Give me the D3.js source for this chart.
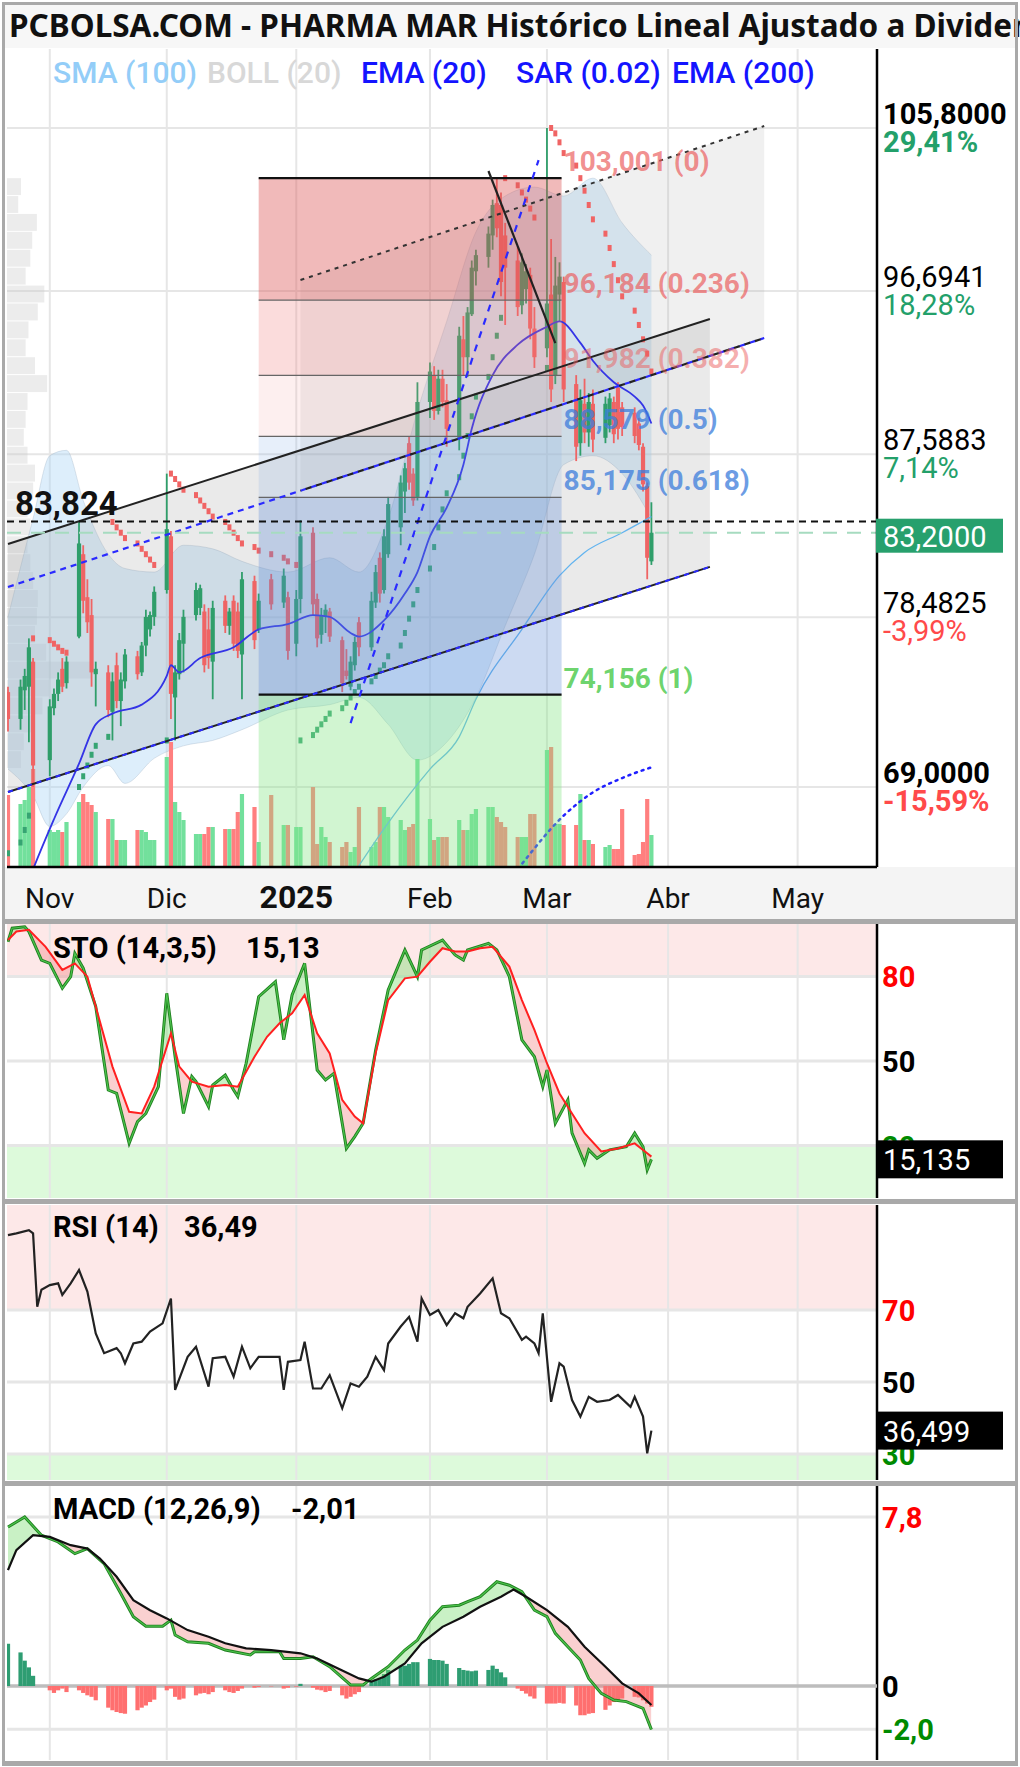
<!DOCTYPE html>
<html>
<head>
<meta charset="utf-8">
<script src="https://cdn.jsdelivr.net/npm/d3@7"></script>
<style>
body { margin: 0; background: #fff; }
svg text { font-family: Roboto, sans-serif; }
</style>
</head>
<body>
<svg id="chart" width="1020" height="1767"></svg>
<script>
// ---------------- data ----------------
var holidays = ["2024-11-01", "2024-12-25", "2024-12-26", "2025-01-01"];

var opens  = [74.3,72.8,74.4,74.6,76.0,70.5,73.4,74.2,75.6,74.8, 77.4,82.0,79.6,78.6,75.3,75.4,73.2,75.8,73.8,74.9, 76.3,75.4,76.9,77.8,78.5,80.0,83.0,74.0,75.3,77.0, 78.6,79.0,78.8,77.8,76.0,79.4,78.0,79.4,78.8,76.4, 80.5,77.8,80.6,79.3,79.6,77.0,79.5,83.2,79.5,77.5, 78.5,78.8,77.2,75.5,74.6,75.8,78.2,76.8,79.3,81.8, 80.0,82.0,83.5,85.5,88.2,86.5,85.2,90.5,92.0,90.0, 91.8,90.6,88.5,94.0,93.0,95.4,97.8,98.6,99.8,101.6, 101.5,99.8,98.4,95.9,96.8,97.6,94.6,93.5,96.5,92.0, 96.5,97.2,91.5,88.2,90.4,88.8,90.4,88.5,89.2,90.5, 91.3,90.2,89.9,89.3,88.0,85.8,81.6];
var highs  = [74.6,75.0,75.6,77.3,76.2,73.9,74.5,75.4,76.2,76.3, 83.8,82.5,80.6,79.5,76.0,75.8,75.4,76.5,75.4,76.7, 76.6,77.1,78.9,78.8,80.2,86.5,83.3,75.8,77.6,78.9, 80.4,80.3,79.2,79.0,79.4,79.7,79.0,79.7,79.3,81.0, 80.8,79.8,80.9,81.2,79.9,80.0,83.9,83.5,79.8,79.0, 79.2,79.0,77.4,76.7,76.3,77.4,78.5,79.9,81.4,82.1, 83.4,85.2,86.4,87.1,88.6,86.8,91.6,92.7,92.5,92.3, 92.3,91.5,94.7,95.3,95.8,98.4,99.0,100.3,101.8,103.0, 102.2,100.5,99.2,98.8,98.2,98.0,95.8,105.8,99.6,98.6, 98.3,97.5,92.0,91.2,91.8,91.0,91.2,90.8,91.0,90.8, 91.6,90.5,90.2,89.6,88.2,86.0,84.9];
var lows   = [72.1,72.2,73.3,71.5,69.0,69.6,73.0,73.8,74.3,74.5, 77.3,78.7,77.6,74.6,73.5,72.9,71.6,73.4,72.4,74.5, 75.0,75.2,76.3,77.4,78.0,79.8,72.8,71.6,75.0,75.4, 78.3,78.6,75.4,75.6,73.9,77.6,77.5,76.6,76.2,73.9, 76.7,77.6,78.9,79.0,76.1,76.3,78.7,78.6,76.8,77.0, 77.6,77.1,74.3,75.0,74.4,75.5,76.3,76.6,79.0,79.3, 79.8,81.8,82.5,84.3,85.6,84.7,85.0,89.6,89.5,89.8, 90.2,88.0,87.8,92.0,91.9,95.3,97.0,98.0,99.0,99.7, 96.4,94.8,95.3,95.4,96.0,94.0,92.4,93.0,90.5,91.5, 95.0,90.5,87.2,87.5,88.2,88.0,87.7,88.2,88.8,88.2, 88.4,88.6,88.2,87.8,85.5,80.6,81.4];
var closes = [72.8,74.6,75.2,76.8,70.2,73.5,74.2,75.0,74.6,76.0, 82.6,79.4,78.2,75.4,75.6,73.3,74.9,73.8,75.0,76.4, 75.3,76.9,78.5,78.6,79.9,83.4,74.2,75.4,77.2,78.5, 80.0,80.1,75.8,76.2,79.0,78.0,78.8,77.0,76.6,80.6, 77.2,79.4,79.2,80.8,76.6,79.5,83.0,79.2,77.3,78.6, 78.9,77.4,74.8,75.2,76.0,77.1,76.8,79.4,81.0,79.8, 83.0,84.8,86.0,86.8,86.0,85.0,90.5,92.2,90.0,91.8, 90.5,89.0,94.2,93.0,95.5,98.0,98.7,99.9,101.5,100.2, 97.2,98.0,95.8,98.3,97.8,94.6,93.0,96.0,91.2,97.0, 97.5,91.2,88.0,90.6,88.8,90.5,88.4,90.4,90.7,88.7, 89.0,89.1,88.6,88.1,85.9,81.8,83.2];
var volumes = [360,315,335,400,490,185,175,185,175,225, 325,365,325,310,275,240,240,135,135,135, 185,185,175,135,135,550,625,325,275,235, 165,165,165,200,200,190,190,190,275,365, 300,125,360,210,210,200,200,400,115,200, 150,125,100,125,75,100,300,100,125,300, 300,250,235,185,200,215,540,240,135,150, 150,150,235,185,185,265,290,300,300,250, 225,200,150,150,150,265,265,585,600,215, 215,210,210,365,135,135,115,100,110,90, 90,290,60,65,125,340,160];
var sarValues = [65.3,65.9,66.6,67.4,77.3,77.2,77.0,76.8,76.6,76.5, 69.0,69.6,70.2,70.8,71.3,71.8,83.8,83.5,83.2,82.9, 82.6,82.3,82.0,81.7,81.4,71.6,86.5,86.2,85.9,85.6, 85.3,85.0,84.7,84.4,84.1,83.8,83.5,83.2,82.9,82.6, 82.4,82.2,82.0,81.8,81.6,81.4,71.6,71.9,72.2,72.5, 72.8,73.1,73.4,73.7,74.0,74.3,74.6,74.9,75.2,75.5, 75.8,76.3,76.9,77.6,78.4,79.2,80.0,81.2,82.4,83.5, 84.5,85.4,86.3,87.5,88.6,89.7,90.8,91.9,93.0,94.2, 95.2,103.0,102.6,102.2,101.8,101.3,100.8,92.4,105.8,105.5, 105.0,104.4,103.7,103.0,102.3,101.5,100.7,99.9,99.1,98.2, 97.3,96.4,95.6,94.8,94.0,93.2,92.2];
var macdHist = [1.95,1.55,1.17,0.86,0.47, -0.20,-0.32,-0.20,-0.12,-0.28, -0.20,-0.32,-0.43,-0.50,-0.66, -1.00,-1.12,-1.20,-1.25,-1.28, -1.12,-1.00,-0.90,-0.74,-0.63, -0.20,-0.12,-0.50,-0.63,-0.58, -0.43,-0.35,-0.32,-0.38,-0.28, -0.20,-0.28,-0.32,-0.23,-0.12, -0.08,-0.05,-0.02,-0.12,-0.08, -0.03,0.10,-0.08,-0.17,-0.20, -0.28,-0.23,-0.43,-0.58,-0.50, -0.38,-0.28,0.25,0.32,0.32, 0.55,0.74,0.94,0.94,1.02, 1.10,1.10,1.25,1.20,1.20, 1.17,1.02,0.83,0.74,0.71, 0.68,0.71,0.74,0.94,0.79, 0.63,0.40,-0.12,-0.23,-0.35, -0.48,-0.58,-0.81,-0.81,-0.81, -0.78,-0.81,-0.90,-1.35,-1.35, -1.28,-1.25,-1.10,-0.90,-0.74, -0.66,-0.58,-0.50,-0.53,-0.66, -0.81,-0.96];

var ema20 = [["2024-10-25",60.5],["2024-10-30",63.8],["2024-11-05",67.2],["2024-11-11",70.3],["2024-11-15",72.5],["2024-11-19",73.1],["2024-11-26",73.6],["2024-12-02",75.2],["2024-12-03",75.8],["2024-12-05",75.4],["2024-12-10",76.2],["2024-12-18",76.8],["2024-12-24",77.8],["2024-12-31",78.1],["2025-01-06",78.6],["2025-01-10",78.5],["2025-01-15",77.6],["2025-01-17",77.4],["2025-01-23",78.3],["2025-01-28",79.8],["2025-01-31",81.0],["2025-02-03",83.0],["2025-02-07",84.6],["2025-02-11",87.0],["2025-02-13",89.0],["2025-02-18",92.0],["2025-02-24",93.7],["2025-03-03",94.7],["2025-03-06",95.0],["2025-03-11",93.8],["2025-03-14",92.8],["2025-03-19",91.6],["2025-03-24",90.8],["2025-03-26",90.3],["2025-03-28",89.3]];
var sma100 = [["2025-01-15",63.9],["2025-01-24",67.0],["2025-02-03",70.0],["2025-02-10",71.8],["2025-02-14",73.9],["2025-02-25",77.8],["2025-03-06",80.8],["2025-03-12",82.1],["2025-03-21",83.2],["2025-03-28",84.1]];
var ema200 = [["2025-02-21",63.5],["2025-02-25",64.7],["2025-03-07",67.4],["2025-03-14",68.7],["2025-03-21",69.5],["2025-03-28",70.1]];
var bollDates = ["2024-10-25","2024-10-31","2024-11-04","2024-11-08","2024-11-12","2024-11-18","2024-11-22","2024-11-29","2024-12-06","2024-12-13","2024-12-20","2024-12-31","2025-01-10","2025-01-17","2025-01-24","2025-01-31","2025-02-07","2025-02-14","2025-02-21","2025-02-28","2025-03-07","2025-03-14","2025-03-21","2025-03-28"];
var bollUpper = [78.5,84.0,87.5,87.8,85.0,82.0,81.2,81.0,82.5,82.3,81.6,81.0,81.8,81.0,84.0,90.0,95.0,100.0,102.0,102.5,102.0,103.0,100.5,98.7];
var bollLower = [70.0,68.5,66.8,67.5,69.0,70.2,69.2,70.6,71.3,71.6,72.2,73.3,73.6,74.0,72.5,70.5,71.5,74.0,78.0,82.0,87.0,87.5,86.5,84.0];

var profilePrices = [70,71,72,73,74,75,76,77,78,79,80,81,82,83,84,85,86,87,88,89,90,91,92,93,94,95,96,97,98,99,100,101,102];
var profileVolumes = [15,18,30,38,45,90,42,30,32,33,28,25,22,25,22,28,30,22,18,20,22,43,30,20,23,33,40,20,25,27,32,12,15];

var fibStart = "2024-12-24", fibEnd = "2025-03-06T12:00Z";
var fibPrices = [103.001, 96.184, 91.982, 88.579, 85.175, 74.156];
var fibTexts = ["103,001 (0)", "96,184 (0.236)", "91,982 (0.382)", "88,579 (0.5)", "85,175 (0.618)", "74,156 (1)"];

var channelAUpper = [["2024-10-25",82.57],["2025-04-11",95.13]];
var channelALower = [["2024-10-25",68.72],["2025-04-11",81.29]];
var channelBUpper = [["2025-01-03",97.31],["2025-04-24",105.91]];
var channelBLower = [["2024-10-25",80.17],["2025-04-24",94.07]];
var downTrend = [["2025-02-17",103.40],["2025-03-05",93.79]];
var steepTrend = [["2025-01-15",72.57],["2025-03-01",104.01]];
var refLine = 83.824, lastPrice = 83.2;

var priceLevels = [105.8, 96.6941, 87.5883, 78.4825, 69.0];
var priceTexts = ["105,8000", "96,6941", "87,5883", "78,4825", "69,0000"];
var pctTexts = ["29,41%", "18,28%", "7,14%", "-3,99%", "-15,59%"];

var tickDates = ["2024-11-04","2024-12-02","2025-01-02","2025-02-03","2025-03-03","2025-04-01","2025-05-02"];
var tickLabels = ["Nov","Dic","2025","Feb","Mar","Abr","May"];

var stoK = [["2024-10-25",92.3],["2024-10-26",97.1],["2024-10-29",97.6],["2024-10-30",95.9],["2024-11-02",85.8],["2024-11-04",84.6],["2024-11-07",75.8],["2024-11-09",79.9],["2024-11-10",88.2],["2024-11-12",82.9],["2024-11-15",69.3],["2024-11-18",39.7],["2024-11-20",38.5],["2024-11-23",20.8],["2024-11-25",28.5],["2024-11-27",31.4],["2024-11-30",40.9],["2024-12-02",74.0],["2024-12-04",51.5],["2024-12-06",31.4],["2024-12-08",44.5],["2024-12-09",42.7],["2024-12-12",33.8],["2024-12-13",41.5],["2024-12-16",45.0],["2024-12-18",39.7],["2024-12-19",37.4],["2024-12-21",49.2],["2024-12-24",72.8],["2024-12-28",78.1],["2024-12-30",57.5],["2025-01-01",73.4],["2025-01-04",84.6],["2025-01-07",46.8],["2025-01-09",43.3],["2025-01-11",45.6],["2025-01-13",27.9],["2025-01-14",19.0],["2025-01-16",23.2],["2025-01-18",27.9],["2025-01-21",53.9],["2025-01-24",75.2],["2025-01-28",89.4],["2025-01-31",79.9],["2025-02-01",89.4],["2025-02-06",92.9],["2025-02-09",87.6],["2025-02-11",85.8],["2025-02-12",89.4],["2025-02-17",91.7],["2025-02-19",89.4],["2025-02-22",79.9],["2025-02-25",57.5],["2025-02-28",51.5],["2025-03-02",40.9],["2025-03-03",46.8],["2025-03-05",27.9],["2025-03-08",36.2],["2025-03-09",24.4],["2025-03-12",13.7],["2025-03-13",18.5],["2025-03-15",15.5],["2025-03-18",18.5],["2025-03-22",19.6],["2025-03-24",24.4],["2025-03-26",19.6],["2025-03-27",11.4],["2025-03-28",15.1]];
var stoD = [["2024-10-25",92.9],["2024-10-27",95.9],["2024-10-30",96.5],["2024-11-03",90.5],["2024-11-07",82.3],["2024-11-10",84.6],["2024-11-13",79.9],["2024-11-15",69.3],["2024-11-19",48.0],["2024-11-23",32.0],["2024-11-26",31.4],["2024-11-29",40.9],["2024-12-03",59.8],["2024-12-05",48.0],["2024-12-08",42.7],["2024-12-12",40.9],["2024-12-16",41.5],["2024-12-19",40.9],["2024-12-23",51.5],["2024-12-26",58.6],["2024-12-29",63.4],["2025-01-01",66.9],["2025-01-04",73.4],["2025-01-07",59.8],["2025-01-10",52.7],["2025-01-13",36.2],["2025-01-16",30.3],["2025-01-18",27.9],["2025-01-21",52.7],["2025-01-24",71.6],["2025-01-28",79.3],["2025-01-31",79.9],["2025-02-03",85.2],["2025-02-06",90.0],["2025-02-09",88.8],["2025-02-12",88.8],["2025-02-15",90.0],["2025-02-18",90.5],["2025-02-22",83.5],["2025-02-25",71.6],["2025-02-28",61.0],["2025-03-03",49.2],["2025-03-06",38.5],["2025-03-09",31.4],["2025-03-12",24.4],["2025-03-16",17.9],["2025-03-20",19.0],["2025-03-24",20.8],["2025-03-27",17.3],["2025-03-28",16.1]];
var rsi = [["2024-10-25",90.8],["2024-10-27",91.3],["2024-10-30",92.2],["2024-10-31",91.3],["2024-11-01",70.9],["2024-11-02",75.6],["2024-11-04",76.9],["2024-11-06",77.4],["2024-11-07",74.2],["2024-11-09",77.4],["2024-11-11",81.1],["2024-11-13",75.1],["2024-11-15",63.5],["2024-11-17",58.0],["2024-11-20",59.4],["2024-11-21",58.0],["2024-11-22",55.2],["2024-11-24",60.7],["2024-11-26",61.2],["2024-11-28",64.0],["2024-12-01",66.3],["2024-12-03",73.2],["2024-12-04",47.8],["2024-12-07",57.0],["2024-12-09",59.8],["2024-12-12",48.7],["2024-12-13",56.6],["2024-12-16",57.0],["2024-12-18",51.5],["2024-12-20",59.8],["2024-12-22",53.8],["2024-12-24",57.0],["2024-12-29",57.0],["2024-12-30",47.8],["2024-12-31",55.6],["2025-01-03",56.1],["2025-01-04",61.2],["2025-01-06",48.2],["2025-01-08",48.2],["2025-01-10",51.9],["2025-01-13",42.7],["2025-01-15",49.6],["2025-01-17",48.7],["2025-01-19",51.5],["2025-01-21",57.0],["2025-01-23",53.3],["2025-01-24",60.7],["2025-01-27",65.4],["2025-01-29",68.1],["2025-01-31",61.2],["2025-02-01",73.2],["2025-02-03",68.6],["2025-02-05",70.0],["2025-02-07",65.8],["2025-02-09",69.1],["2025-02-11",67.7],["2025-02-12",70.9],["2025-02-15",74.6],["2025-02-18",78.8],["2025-02-20",69.1],["2025-02-22",67.7],["2025-02-25",61.7],["2025-02-26",62.6],["2025-02-28",60.7],["2025-03-01",58.0],["2025-03-02",69.1],["2025-03-04",44.5],["2025-03-06",55.2],["2025-03-07",54.3],["2025-03-09",45.0],["2025-03-11",40.4],["2025-03-13",45.9],["2025-03-15",44.5],["2025-03-18",45.0],["2025-03-20",46.4],["2025-03-23",43.1],["2025-03-24",45.9],["2025-03-26",40.4],["2025-03-27",30.2],["2025-03-28",36.5]];
var macdLine = [["2024-10-25",7.34],["2024-10-29",7.80],["2024-11-02",6.96],["2024-11-06",6.65],["2024-11-10",6.11],["2024-11-13",6.34],["2024-11-17",5.65],["2024-11-21",4.27],["2024-11-24",3.20],["2024-11-27",2.76],["2024-12-01",2.76],["2024-12-03",3.04],["2024-12-04",2.35],["2024-12-07",2.04],["2024-12-12",1.97],["2024-12-16",1.66],["2024-12-22",1.43],["2024-12-23",1.58],["2024-12-29",1.58],["2024-12-30",1.27],["2025-01-03",1.27],["2025-01-06",1.35],["2025-01-10",0.89],["2025-01-15",0.05],["2025-01-18",0.05],["2025-01-20",0.35],["2025-01-24",0.89],["2025-01-28",1.66],["2025-01-31",2.12],["2025-02-03",3.04],["2025-02-06",3.66],["2025-02-10",3.73],["2025-02-12",3.89],["2025-02-15",4.12],["2025-02-19",4.81],["2025-02-22",4.65],["2025-02-25",4.35],["2025-02-28",3.50],["2025-03-03",3.20],["2025-03-05",2.43],["2025-03-08",1.81],["2025-03-11",1.20],["2025-03-13",0.35],["2025-03-16",-0.34],["2025-03-19",-0.65],["2025-03-22",-0.72],["2025-03-26",-1.03],["2025-03-28",-2.01]];
var macdSignal = [["2024-10-25",5.35],["2024-10-27",6.27],["2024-10-31",6.96],["2024-11-04",6.88],["2024-11-09",6.50],["2024-11-13",6.34],["2024-11-16",5.88],["2024-11-20",5.04],["2024-11-24",3.96],["2024-11-28",3.50],["2024-12-02",3.12],["2024-12-07",2.58],["2024-12-12",2.27],["2024-12-16",1.97],["2024-12-21",1.74],["2024-12-27",1.66],["2025-01-03",1.51],["2025-01-07",1.27],["2025-01-12",0.81],["2025-01-17",0.35],["2025-01-20",0.20],["2025-01-23",0.43],["2025-01-28",1.04],["2025-02-01",1.97],["2025-02-06",2.73],["2025-02-11",3.20],["2025-02-15",3.66],["2025-02-20",4.12],["2025-02-23",4.45],["2025-02-26",4.12],["2025-03-03",3.50],["2025-03-08",2.73],["2025-03-12",1.81],["2025-03-17",0.89],["2025-03-21",0.12],["2025-03-25",-0.34],["2025-03-28",-0.88]];

// ---------------- setup ----------------
var P = d3.isoParse, ymd = d3.utcFormat("%Y-%m-%d");
var days = d3.utcDay.range(P("2024-10-25"), P("2025-03-29"))
  .filter(function(d) { return d.getUTCDay() != 0 && d.getUTCDay() != 6 && holidays.indexOf(ymd(d)) < 0; });
var bars = days.map(function(d, i) {
  return {d: d, o: opens[i], h: highs[i], l: lows[i], c: closes[i], v: volumes[i], sar: sarValues[i], hist: macdHist[i]};
});

var svg = d3.select("#chart");
var defs = svg.append("defs");
var plotL = 7, plotR = 877;
var panels = {
  main: {top: 49, bottom: 867},
  sto:  {top: 923, bottom: 1198},
  rsi:  {top: 1205, bottom: 1480},
  macd: {top: 1486, bottom: 1760}
};
Object.keys(panels).forEach(function(k) {
  var p = panels[k];
  defs.append("clipPath").attr("id", "clip-" + k).append("rect")
    .attr("x", plotL).attr("y", p.top).attr("width", plotR - plotL).attr("height", p.bottom - p.top);
});

var x = d3.scaleUtc().domain([P("2024-10-25"), P("2025-05-21")]).range([8, 877]);
var y = d3.scaleLinear().domain([69, 105.8]).range([787, 128]);
var yVol = d3.scaleLinear().domain([0, 650]).range([867, 737]);
var ySto = d3.scaleLinear().domain([0, 100]).range([1202, 920]);
var yRsi = d3.scaleLinear().domain([50, 70]).range([1382, 1310]);
var yMacd = d3.scaleLinear().domain([0, 7.8]).range([1686, 1517]);
var xProfile = d3.scaleLinear().domain([0, 90]).range([0, 84]);

var GREEN = "#2f9e6a", RED = "#ef6464";

function lineOf(ys) {
  return d3.line().x(function(p) { return x(P(p[0])); }).y(function(p) { return ys(p[1]); });
}

// ---------------- frame ----------------
svg.append("rect").attr("x", 0).attr("y", 0).attr("width", 1020).attr("height", 1767).attr("fill", "#fff");
svg.append("rect").attr("x", 4).attr("y", 5).attr("width", 1012).attr("height", 43).attr("fill", "#f7f7f7");
svg.append("rect").attr("x", 4).attr("y", 867).attr("width", 1012).attr("height", 52).attr("fill", "#f4f4f4");

// zones in oscillator panels
svg.append("rect").attr("x", plotL).attr("y", panels.sto.top).attr("width", plotR - plotL)
  .attr("height", ySto(80) - panels.sto.top).attr("fill", "#fde8e8");
svg.append("rect").attr("x", plotL).attr("y", ySto(20)).attr("width", plotR - plotL)
  .attr("height", panels.sto.bottom - ySto(20)).attr("fill", "#ddfadb");
svg.append("rect").attr("x", plotL).attr("y", panels.rsi.top).attr("width", plotR - plotL)
  .attr("height", yRsi(70) - panels.rsi.top).attr("fill", "#fde8e8");
svg.append("rect").attr("x", plotL).attr("y", yRsi(30)).attr("width", plotR - plotL)
  .attr("height", panels.rsi.bottom - yRsi(30)).attr("fill", "#ddfadb");

// grid
var grid = svg.append("g").attr("stroke", "#e6e6e6").attr("stroke-width", 2);
Object.keys(panels).forEach(function(k) {
  var p = panels[k];
  tickDates.forEach(function(t) {
    grid.append("line").attr("x1", x(P(t))).attr("x2", x(P(t))).attr("y1", p.top).attr("y2", p.bottom);
  });
});
priceLevels.forEach(function(v) {
  grid.append("line").attr("x1", plotL).attr("x2", plotR).attr("y1", y(v)).attr("y2", y(v));
});
[80, 50, 20].forEach(function(v) {
  grid.append("line").attr("x1", plotL).attr("x2", plotR).attr("y1", ySto(v)).attr("y2", ySto(v)).attr("stroke-width", 3);
});
[70, 50, 30].forEach(function(v) {
  grid.append("line").attr("x1", plotL).attr("x2", plotR).attr("y1", yRsi(v)).attr("y2", yRsi(v)).attr("stroke-width", 3);
});
[7.8, -2.0].forEach(function(v) {
  grid.append("line").attr("x1", plotL).attr("x2", plotR).attr("y1", yMacd(v)).attr("y2", yMacd(v)).attr("stroke-width", 3);
});

// ---------------- main price panel ----------------
var main = svg.append("g").attr("clip-path", "url(#clip-main)");

// volume profile
main.append("g").selectAll("rect").data(profilePrices).enter().append("rect")
  .attr("x", plotL)
  .attr("y", function(p) { return y(p + 1); })
  .attr("width", function(p, i) { return xProfile(profileVolumes[i]); })
  .attr("height", function(p) { return y(p) - y(p + 1) - 1; })
  .attr("fill", "rgba(200,200,200,0.35)");

// bollinger band
var boll = bollDates.map(function(d, i) { return [d, bollUpper[i], bollLower[i]]; });
main.append("path")
  .attr("d", d3.area().curve(d3.curveMonotoneX)
    .x(function(p) { return x(P(p[0])); }).y0(function(p) { return y(p[2]); }).y1(function(p) { return y(p[1]); })(boll))
  .attr("fill", "rgba(175,215,245,0.42)");
[1, 2].forEach(function(k) {
  main.append("path")
    .attr("d", d3.line().curve(d3.curveMonotoneX).x(function(p) { return x(P(p[0])); }).y(function(p) { return y(p[k]); })(boll))
    .attr("fill", "none").attr("stroke", "rgba(150,170,190,0.3)").attr("stroke-width", 1);
});

// volume bars
main.append("g").selectAll("rect").data(bars).enter().append("rect")
  .attr("x", function(b) { return x(b.d) - 2.1; })
  .attr("y", function(b) { return yVol(b.v); })
  .attr("width", 4.2)
  .attr("height", function(b) { return yVol(0) - yVol(b.v); })
  .attr("fill", function(b) { return b.c >= b.o ? "#72e09c" : "#ff7f7f"; });

// regression channel fills
function valueAt(line, date) {
  return d3.scaleUtc().domain([P(line[0][0]), P(line[1][0])]).range([line[0][1], line[1][1]])(date);
}
var chanA = [channelAUpper[0][0], channelAUpper[1][0]].map(function(d) {
  return [d, valueAt(channelAUpper, P(d)), valueAt(channelALower, P(d))];
});
var chanB = [channelBUpper[0][0], channelBUpper[1][0]].map(function(d) {
  return [d, valueAt(channelBUpper, P(d)), valueAt(channelBLower, P(d))];
});
var bandArea = d3.area().x(function(p) { return x(P(p[0])); })
  .y0(function(p) { return y(p[2]); }).y1(function(p) { return y(p[1]); });
main.append("path").attr("d", bandArea(chanA)).attr("fill", "rgba(150,150,150,0.2)");
main.append("path").attr("d", bandArea(chanB)).attr("fill", "rgba(170,170,170,0.18)");

// candles
var candles = main.append("g").selectAll("g").data(bars).enter().append("g")
  .attr("fill", function(b) { return b.c >= b.o ? GREEN : RED; })
  .attr("stroke", function(b) { return b.c >= b.o ? GREEN : RED; });
candles.append("line")
  .attr("x1", function(b) { return x(b.d); }).attr("x2", function(b) { return x(b.d); })
  .attr("y1", function(b) { return y(b.h); }).attr("y2", function(b) { return y(b.l); })
  .attr("stroke-width", 1.8);
candles.append("rect")
  .attr("stroke", "none")
  .attr("x", function(b) { return x(b.d) - 2.1; })
  .attr("width", 4.2)
  .attr("y", function(b) { return y(Math.max(b.o, b.c)); })
  .attr("height", function(b) { return Math.max(1.5, Math.abs(y(b.o) - y(b.c))); });

// parabolic SAR
main.append("g").selectAll("rect").data(bars).enter().append("rect")
  .attr("x", function(b) { return x(b.d) - 2; })
  .attr("y", function(b) { return y(b.sar) - 3; })
  .attr("width", 4).attr("height", 6)
  .attr("fill", function(b) { return b.sar > b.c ? "#f06464" : "#36a472"; });

// moving averages
main.append("path").attr("d", lineOf(y).curve(d3.curveMonotoneX)(sma100))
  .attr("fill", "none").attr("stroke", "#63b4ef").attr("stroke-width", 1.3);
main.append("path").attr("d", lineOf(y).curve(d3.curveMonotoneX)(ema20))
  .attr("fill", "none").attr("stroke", "#3434e6").attr("stroke-width", 1.8);
main.append("path").attr("d", lineOf(y).curve(d3.curveMonotoneX)(ema200))
  .attr("fill", "none").attr("stroke", "#2020ff").attr("stroke-width", 2.5)
  .attr("stroke-dasharray", "2,5").attr("stroke-linecap", "round");

// fibonacci zones
var x0 = x(P(fibStart)), x1 = x(P(fibEnd));
var fibFills = ["rgba(222,90,90,0.42)", "rgba(240,120,120,0.26)", "rgba(240,150,150,0.15)",
                "rgba(120,165,225,0.18)", "rgba(95,140,215,0.32)"];
fibFills.forEach(function(c, i) {
  main.append("rect").attr("x", x0).attr("width", x1 - x0)
    .attr("y", y(fibPrices[i])).attr("height", y(fibPrices[i + 1]) - y(fibPrices[i]))
    .attr("fill", c);
});
main.append("rect").attr("x", x0).attr("width", x1 - x0)
  .attr("y", y(fibPrices[5])).attr("height", panels.main.bottom - y(fibPrices[5]))
  .attr("fill", "rgba(135,230,135,0.38)");
fibPrices.forEach(function(v, i) {
  var edge = (i == 0 || i == 5);
  main.append("line").attr("x1", x0).attr("x2", x1).attr("y1", y(v)).attr("y2", y(v))
    .attr("stroke", edge ? "#111" : "#666").attr("stroke-width", edge ? 2.2 : 1.3);
});

// trend lines
function drawLine(pts, stroke, width, dash) {
  var p = main.append("path").attr("d", lineOf(y)(pts))
    .attr("fill", "none").attr("stroke", stroke).attr("stroke-width", width);
  if (dash) p.attr("stroke-dasharray", dash);
  return p;
}
drawLine(channelAUpper, "#222", 2);
drawLine(channelALower, "#222", 2);
drawLine(channelALower, "#2a2aff", 2, "5,5");
drawLine(channelBLower, "#2a2aff", 2.2, "6,5");
drawLine(channelBLower.map(function(p, i) { return i == 0 ? ["2025-01-03", valueAt(channelBLower, P("2025-01-03"))] : p; }),
  "#222", 2.2, "6,5").attr("stroke-dashoffset", 5.5);
drawLine(channelBUpper, "#333", 2, "4,5");
drawLine(downTrend, "#222", 2.2);
drawLine(steepTrend, "#2a2aff", 2.2, "7,7");

// horizontal reference lines
main.append("line").attr("x1", plotL).attr("x2", plotR).attr("y1", y(lastPrice)).attr("y2", y(lastPrice))
  .attr("stroke", "#a6dbc0").attr("stroke-width", 2).attr("stroke-dasharray", "14,10");
main.append("line").attr("x1", plotL).attr("x2", plotR).attr("y1", y(refLine)).attr("y2", y(refLine))
  .attr("stroke", "#111").attr("stroke-width", 2).attr("stroke-dasharray", "7,5");

// fib labels
var fibColors = ["rgba(235,95,95,0.7)", "rgba(235,95,95,0.7)", "rgba(235,95,95,0.5)",
                 "rgba(60,125,220,0.75)", "rgba(60,125,220,0.75)", "rgba(70,200,70,0.8)"];
fibPrices.forEach(function(v, i) {
  svg.append("text").attr("x", x1 + 2).attr("y", y(v) - 7)
    .attr("font-size", 28).attr("font-weight", "bold").attr("fill", fibColors[i])
    .text(fibTexts[i]);
});
svg.append("text").attr("x", 15).attr("y", y(refLine) - 7)
  .attr("font-size", 33).attr("font-weight", "bold").attr("fill", "#111")
  .text(d3.format(".3f")(refLine).replace(".", ","));

// axes lines
svg.append("line").attr("x1", plotL).attr("x2", plotR).attr("y1", 867).attr("y2", 867)
  .attr("stroke", "#000").attr("stroke-width", 2.5);
Object.keys(panels).forEach(function(k) {
  svg.append("line").attr("x1", plotR).attr("x2", plotR)
    .attr("y1", panels[k].top).attr("y2", panels[k].bottom)
    .attr("stroke", "#000").attr("stroke-width", 2.5);
});

// price labels on the right
priceLevels.forEach(function(v, i) {
  var bold = (i == 0 || i == priceLevels.length - 1);
  svg.append("text").attr("x", 883).attr("y", y(v) - 4)
    .attr("font-size", 29).attr("font-weight", bold ? "bold" : "normal").attr("fill", "#000")
    .text(priceTexts[i]);
  svg.append("text").attr("x", 883).attr("y", y(v) + 24)
    .attr("font-size", 29).attr("font-weight", bold ? "bold" : "normal")
    .attr("fill", pctTexts[i].charAt(0) == "-" ? "#ff4a4a" : "#23a06a")
    .text(pctTexts[i]);
});
svg.append("rect").attr("x", 876).attr("y", y(lastPrice) - 14).attr("width", 127).attr("height", 34)
  .attr("fill", "#27a06d");
svg.append("text").attr("x", 883).attr("y", y(lastPrice) + 14)
  .attr("font-size", 29).attr("fill", "#fff").text("83,2000");

// legend
var legend = [["SMA (100)", "#93cdf8", 53], ["BOLL (20)", "#d8d8d8", 207], ["EMA (20)", "#1414ff", 361],
              ["SAR (0.02)", "#1414ff", 516], ["EMA (200)", "#1414ff", 672]];
legend.forEach(function(l) {
  svg.append("text").attr("x", l[2]).attr("y", 83).attr("font-size", 30).attr("font-weight", 500)
    .attr("fill", l[1]).text(l[0]);
});

// title
svg.append("text").attr("x", 9).attr("y", 37)
  .style("font-family", "'Noto Sans', sans-serif").attr("font-size", 31.5).attr("font-weight", "bold")
  .attr("fill", "#111")
  .text("PCBOLSA.COM - PHARMA MAR Histórico Lineal Ajustado a Dividendos");

// date axis labels
tickDates.forEach(function(t, i) {
  svg.append("text").attr("x", x(P(t))).attr("y", 908).attr("text-anchor", "middle")
    .attr("font-size", i == 2 ? 32 : 28).attr("font-weight", i == 2 ? "bold" : "normal")
    .attr("fill", "#111").text(tickLabels[i]);
});

// ---------------- oscillators ----------------
function fillBetween(g, upper, lower, ys, top, bottom, id, color) {
  var below = d3.area().x(function(p) { return x(P(p[0])); }).y0(bottom).y1(function(p) { return ys(p[1]); });
  var above = d3.area().x(function(p) { return x(P(p[0])); }).y0(top).y1(function(p) { return ys(p[1]); });
  defs.append("clipPath").attr("id", id).append("path").attr("d", above(lower));
  g.append("path").attr("d", below(upper)).attr("fill", color).attr("clip-path", "url(#" + id + ")");
}
function greenLine(g, pts, ys) {
  g.append("path").attr("d", lineOf(ys)(pts)).attr("fill", "none").attr("stroke", "#1f7f1f").attr("stroke-width", 3);
  g.append("path").attr("d", lineOf(ys)(pts)).attr("fill", "none").attr("stroke", "#4cc34c").attr("stroke-width", 1.2);
}

// STO
var sto = svg.append("g").attr("clip-path", "url(#clip-sto)");
fillBetween(sto, stoK, stoD, ySto, panels.sto.top, panels.sto.bottom, "kd-up", "rgba(120,220,110,0.4)");
fillBetween(sto, stoD, stoK, ySto, panels.sto.top, panels.sto.bottom, "kd-down", "rgba(240,120,120,0.35)");
greenLine(sto, stoK, ySto);
sto.append("path").attr("d", lineOf(ySto)(stoD)).attr("fill", "none").attr("stroke", "#ff2020").attr("stroke-width", 2);

// RSI
var rsiG = svg.append("g").attr("clip-path", "url(#clip-rsi)");
rsiG.append("path").attr("d", lineOf(yRsi)(rsi)).attr("fill", "none").attr("stroke", "#222").attr("stroke-width", 2.2);

// MACD
var macdG = svg.append("g").attr("clip-path", "url(#clip-macd)");
macdG.append("line").attr("x1", plotL).attr("x2", plotR).attr("y1", yMacd(0)).attr("y2", yMacd(0))
  .attr("stroke", "#bdbdbd").attr("stroke-width", 3.5);
macdG.append("g").selectAll("rect").data(bars).enter().append("rect")
  .attr("x", function(b) { return x(b.d) - 2.1; })
  .attr("width", 4.2)
  .attr("y", function(b) { return Math.min(yMacd(0), yMacd(b.hist)); })
  .attr("height", function(b) { return Math.abs(yMacd(b.hist) - yMacd(0)); })
  .attr("fill", function(b) { return b.hist >= 0 ? "#2e9d72" : "#ff6f6f"; });
fillBetween(macdG, macdLine, macdSignal, yMacd, panels.macd.top, panels.macd.bottom, "macd-up", "rgba(120,220,110,0.4)");
fillBetween(macdG, macdSignal, macdLine, yMacd, panels.macd.top, panels.macd.bottom, "macd-down", "rgba(240,120,120,0.35)");
greenLine(macdG, macdLine, yMacd);
macdG.append("path").attr("d", lineOf(yMacd)(macdSignal)).attr("fill", "none").attr("stroke", "#111").attr("stroke-width", 2.2);

// panel titles
function panelTitle(name, value, yy, vx) {
  svg.append("text").attr("x", 53).attr("y", yy).attr("font-size", 29).attr("font-weight", "bold").text(name);
  svg.append("text").attr("x", vx).attr("y", yy).attr("font-size", 29).attr("font-weight", "bold").text(value);
}
panelTitle("STO (14,3,5)", "15,13", 958, 246);
panelTitle("RSI (14)", "36,49", 1237, 184);
panelTitle("MACD (12,26,9)", "-2,01", 1519, 291);

// right labels of the panels
function sideLabel(txt, yy, color) {
  svg.append("text").attr("x", 882).attr("y", yy + 11).attr("font-size", 29).attr("font-weight", "bold")
    .attr("fill", color).text(txt);
}
sideLabel("80", ySto(80), "#ff0000");
sideLabel("50", ySto(50), "#000");
sideLabel("20", ySto(20), "#008a00");
sideLabel("70", yRsi(70), "#ff0000");
sideLabel("50", yRsi(50), "#000");
sideLabel("30", yRsi(30), "#008a00");
sideLabel("7,8", yMacd(7.8), "#ff0000");
sideLabel("0", yMacd(0), "#000");
sideLabel("-2,0", yMacd(-2.0), "#008a00");

function valueBox(txt, yy) {
  svg.append("rect").attr("x", 876).attr("y", yy - 19).attr("width", 127).attr("height", 38).attr("fill", "#000");
  svg.append("text").attr("x", 883).attr("y", yy + 11).attr("font-size", 29).attr("fill", "#fff").text(txt);
}
valueBox("15,135", ySto(15.135));
valueBox("36,499", yRsi(36.499));

// separators and outer frame
[[919, 5], [1199, 5], [1481, 5], [1761, 4]].forEach(function(s) {
  svg.append("rect").attr("x", 4).attr("y", s[0]).attr("width", 1012).attr("height", s[1]).attr("fill", "#a9a9a9");
});
svg.append("rect").attr("x", 3.5).attr("y", 3.5).attr("width", 1013).attr("height", 1761)
  .attr("fill", "none").attr("stroke", "#a9a9a9").attr("stroke-width", 3);
</script>
</body>
</html>
